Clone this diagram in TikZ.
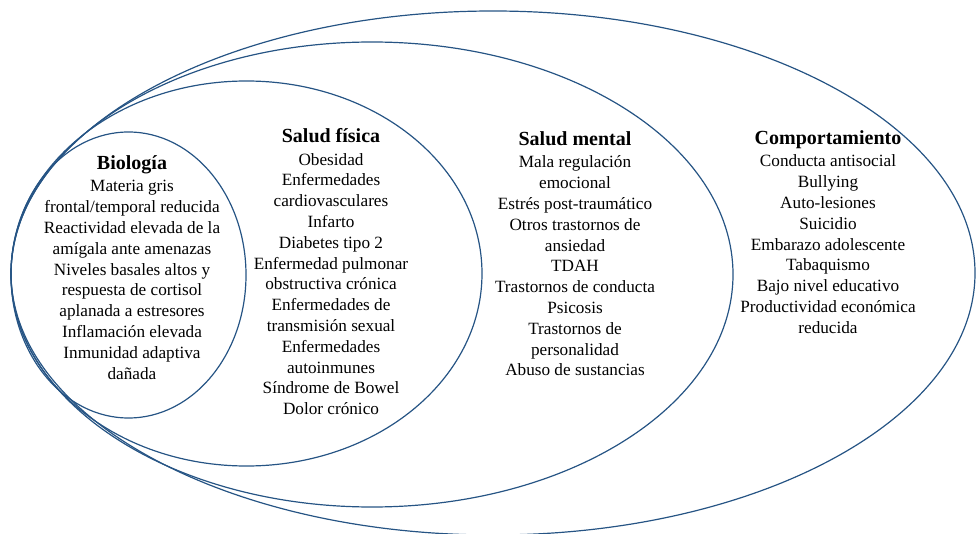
\documentclass[tikz,border=0pt]{standalone}
\usepackage{fontspec}
\setmainfont{Liberation Serif}
\usepackage{tikz}
\definecolor{ringblue}{RGB}{38,84,132}
\newcommand{\grp}[1]{{\fontsize{20}{22}\selectfont\bfseries #1}\\[1.5pt]}

\begin{document}
\begin{tikzpicture}[
  x=1pt,y=-1pt,
  ring/.style={draw=ringblue,line width=1.2pt},
  block/.style={align=center,anchor=north,inner sep=0pt,
    font=\fontsize{17.2}{20.8}\selectfont}
]
  \useasboundingbox (0,0) rectangle (976,534);

  % nested rings, all touching on the left
  \draw[ring] (493,273) ellipse [x radius=482,y radius=262];
  \draw[ring] (372,274.5) ellipse [x radius=361,y radius=232.5];
  \draw[ring] (246.5,273.5) ellipse [x radius=235.5,y radius=192.5];
  \draw[ring] (128.5,275) ellipse [x radius=117.5,y radius=143];

  \node[block] (bio) at (132,155.5)
    {\grp{Biología}
     Materia gris\\
     frontal/temporal reducida\\
     Reactividad elevada de la\\
     amígala ante amenazas\\
     Niveles basales altos y\\
     respuesta de cortisol\\
     aplanada a estresores\\
     Inflamación elevada\\
     Inmunidad adaptiva\\
     dañada};

  \node[block] (fisica) at (331,128.5)
    {\grp{Salud física}
     Obesidad\\
     Enfermedades\\
     cardiovasculares\\
     Infarto\\
     Diabetes tipo 2\\
     Enfermedad pulmonar\\
     obstructiva crónica\\
     Enfermedades de\\
     transmisión sexual\\
     Enfermedades\\
     autoinmunes\\
     Síndrome de Bowel\\
     Dolor crónico};

  \node[block] (mental) at (575,131.5)
    {\grp{Salud mental}
     Mala regulación\\
     emocional\\
     Estrés post-traumático\\
     Otros trastornos de\\
     ansiedad\\
     TDAH\\
     Trastornos de conducta\\
     Psicosis\\
     Trastornos de\\
     personalidad\\
     Abuso de sustancias};

  \node[block] (comport) at (828,130.5)
    {\grp{Comportamiento}
     Conducta antisocial\\
     Bullying\\
     Auto-lesiones\\
     Suicidio\\
     Embarazo adolescente\\
     Tabaquismo\\
     Bajo nivel educativo\\
     Productividad económica\\
     reducida};
\end{tikzpicture}
\end{document}
